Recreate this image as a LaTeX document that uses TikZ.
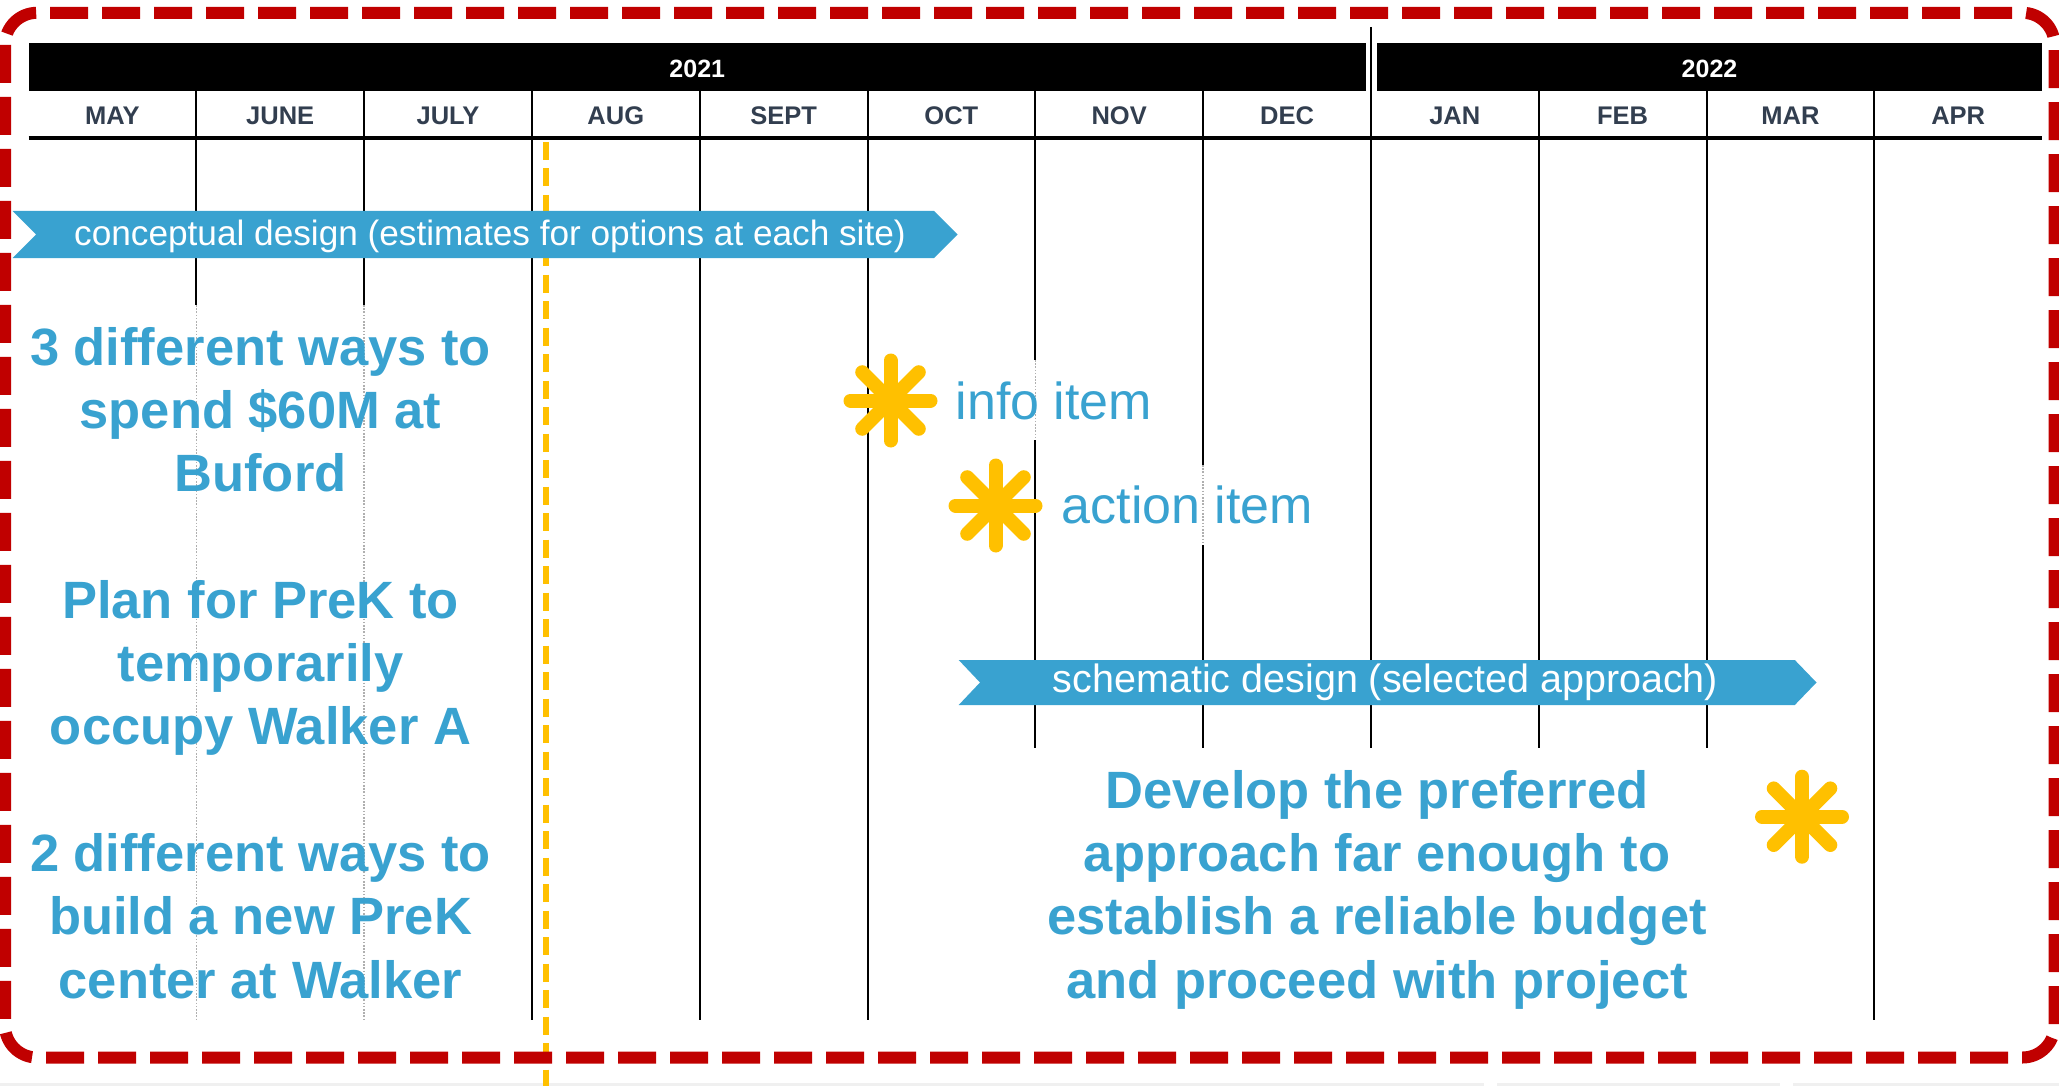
\documentclass[tikz,border=0pt]{standalone}
\usepackage{fontspec}
\setmainfont{Liberation Sans}
\definecolor{barblue}{RGB}{57,162,208}
\definecolor{framered}{RGB}{192,0,0}
\definecolor{gold}{RGB}{255,192,0}
\definecolor{slate}{RGB}{50,62,79}
\definecolor{faint}{RGB}{175,175,175}
\definecolor{strip}{RGB}{240,240,240}
\begin{document}
\begin{tikzpicture}[x=1pt,y=-1pt,
  grid/.style={line width=2pt, black},
  gridthin/.style={line width=1.2pt, black},
  faded/.style={line width=1.4pt, faint, dash pattern=on 1.6pt off 1.6pt},
  month/.style={anchor=base, text=slate, inner sep=0, font=\fontsize{25.5}{30}\selectfont\bfseries},
  year/.style={anchor=base, text=white, inner sep=0, font=\fontsize{25}{30}\selectfont\bfseries},
  phasetext/.style={anchor=base, text=white, inner sep=0},
  bigtext/.style={anchor=base, text=barblue, inner sep=0, font=\fontsize{52.5}{63}\selectfont\bfseries},
  itemtext/.style={anchor=base west, text=barblue, inner sep=0, font=\fontsize{52}{62}\selectfont},
  starline/.style={gold, line width=14pt, line cap=round},
  pics/burst/.style={code={
    \foreach \a in {0,45,90,135} \draw[starline] (\a:40) -- (\a+180:40);
  }},
]
\useasboundingbox (0,0) rectangle (2059,1086);

% faint strip along the bottom edge
\fill[strip] (0,1083) rectangle (1484,1086);
\fill[strip] (1497,1083) rectangle (1780,1086);
\fill[strip] (1793,1083) rectangle (2059,1086);

% year bars
\fill[black] (28.5,43) rectangle (1366,91);
\fill[black] (1377,43) rectangle (2042,91);
\node[year] (y2021) at (697.25,77.5) {2021};
\node[year] (y2022) at (1709.5,77.5) {2022};

% month labels
\foreach \m [count=\i from 0] in {MAY,JUNE,JULY,AUG,SEPT,OCT,NOV,DEC,JAN,FEB,MAR,APR}
  \node[month] (m\i) at ({28.5+167.8*(\i+0.5)},125) {\m};

% month dividers
\foreach \i in {1,2} {
  \draw[grid] ({28.5+167.8*\i},91) -- ({28.5+167.8*\i},305);
  \draw[faded] ({28.5+167.8*\i},305) -- ({28.5+167.8*\i},1020);
}
\foreach \i in {3,4,5,11}
  \draw[grid] ({28.5+167.8*\i},91) -- ({28.5+167.8*\i},1020);
\draw[grid] (1035.3,91) -- (1035.3,360);
\draw[faded] (1035.3,360) -- (1035.3,440);
\draw[grid] (1035.3,440) -- (1035.3,748);
\draw[grid] (1203.1,91) -- (1203.1,465);
\draw[faded] (1203.1,465) -- (1203.1,545);
\draw[grid] (1203.1,545) -- (1203.1,748);
\draw[gridthin] (1370.9,27) -- (1370.9,748);
\foreach \i in {9,10}
  \draw[grid] ({28.5+167.8*\i},91) -- ({28.5+167.8*\i},748);

% rule under the month row
\draw[line width=3.6pt] (28.5,138) -- (2042,138);

% today marker
\draw[gold, line width=6.5pt, dash pattern=on 18pt off 8.5pt] (546,142) -- (546,1086);

% phase bars
\fill[barblue] (12.5,211) -- (934,211) -- (957.5,234.5) -- (934,258) -- (12.5,258) -- (36,234.5) -- cycle;
\node[phasetext, font=\fontsize{35.2}{42}\selectfont] (concept) at (490,245)
  {conceptual design (estimates for options at each site)};
\fill[barblue] (958.7,660) -- (1794.8,660) -- (1816.5,682.5) -- (1794.8,705) -- (958.7,705) -- (980,682.5) -- cycle;
\node[phasetext, font=\fontsize{39.5}{47}\selectfont] (schem) at (1385.5,692)
  {schematic design (selected approach)};

% deliverables of the conceptual phase
\foreach \t [count=\k from 0] in {3 different ways to, spend \$60M at, Buford}
  \node[bigtext] (buford\k) at (260.5,{365+63.3*\k}) {\t};
\foreach \t [count=\k from 4] in {Plan for PreK to, temporarily, occupy Walker A}
  \node[bigtext] (temp\k) at (260.5,{365+63.3*\k}) {\t};
\foreach \t [count=\k from 8] in {2 different ways to, build a new PreK, center at Walker}
  \node[bigtext] (walker\k) at (260.5,{365+63.3*\k}) {\t};

% deliverable of the schematic phase
\foreach \t [count=\k from 7] in {Develop the preferred, approach far enough to, establish a reliable budget, and proceed with project}
  \node[bigtext] (develop\k) at (1377,{365+63.3*\k}) {\t};

% legend and milestones
\pic (infostar) at (890.5,400.5) {burst};
\node[itemtext] (info) at (955.5,419.3) {info item};
\pic (actionstar) at (995.5,505.5) {burst};
\node[itemtext] (action) at (1061.5,523.3) {action item};
\pic (devstar) at (1802,816.7) {burst};

% dashed frame
\draw[framered, line width=12pt, rounded corners=32pt, dash pattern=on 38pt off 14pt]
  (5,12.8) rectangle (2054.5,1057.5);
\end{tikzpicture}
\end{document}
